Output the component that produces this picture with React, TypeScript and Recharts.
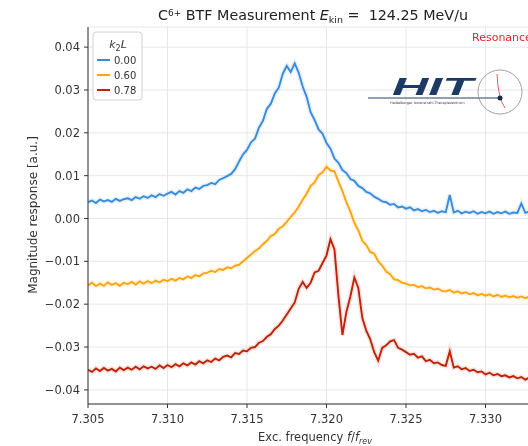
import { LineChart, Line, XAxis, YAxis, CartesianGrid } from "recharts"

// excitation frequency sweep f/f_rev
const FREQ = [
  7.305, 7.30525, 7.3055, 7.30575, 7.306, 7.30625, 7.3065, 7.30675, 7.307, 7.30725,
  7.3075, 7.30775, 7.308, 7.30825, 7.3085, 7.30875, 7.309, 7.30925, 7.3095, 7.30975,
  7.31, 7.31025, 7.3105, 7.31075, 7.311, 7.31125, 7.3115, 7.31175, 7.312, 7.31225,
  7.3125, 7.31275, 7.313, 7.31325, 7.3135, 7.31375, 7.314, 7.31425, 7.3145, 7.31475,
  7.315, 7.31525, 7.3155, 7.31575, 7.316, 7.31625, 7.3165, 7.31675, 7.317, 7.31725,
  7.3175, 7.31775, 7.318, 7.31825, 7.3185, 7.31875, 7.319, 7.31925, 7.3195, 7.31975,
  7.32, 7.32025, 7.3205, 7.32075, 7.321, 7.32125, 7.3215, 7.32175, 7.322, 7.32225,
  7.3225, 7.32275, 7.323, 7.32325, 7.3235, 7.32375, 7.324, 7.32425, 7.3245, 7.32475,
  7.325, 7.32525, 7.3255, 7.32575, 7.326, 7.32625, 7.3265, 7.32675, 7.327, 7.32725,
  7.3275, 7.32775, 7.328, 7.32825, 7.3285, 7.32875, 7.329, 7.32925, 7.3295, 7.32975,
  7.33, 7.33025, 7.3305, 7.33075, 7.331, 7.33125, 7.3315, 7.33175, 7.332, 7.33225,
  7.3325, 7.33275, 7.333, 7.33325,
]

// k2L = 0.00
const RESP_000 = [
  0.0038, 0.0042, 0.0036, 0.0044, 0.004, 0.0043, 0.0039, 0.0046, 0.0041, 0.0045,
  0.0047, 0.0043, 0.005, 0.0046, 0.0052, 0.0048, 0.0054, 0.005, 0.0057, 0.0053,
  0.0058, 0.0062, 0.0056, 0.0064, 0.006, 0.0068, 0.0064, 0.0072, 0.0069, 0.0076,
  0.0078, 0.0083, 0.008, 0.009, 0.0094, 0.0099, 0.0104, 0.0115, 0.0133, 0.015,
  0.016, 0.0178, 0.0186, 0.0212, 0.0228, 0.0256, 0.0268, 0.0292, 0.0306, 0.0338,
  0.0356, 0.0342, 0.0362, 0.034, 0.0308, 0.0284, 0.0248, 0.023, 0.0208, 0.0198,
  0.0176, 0.0163, 0.014, 0.013, 0.0113, 0.0106, 0.0092, 0.0088, 0.0076, 0.0071,
  0.0062, 0.0059, 0.0051, 0.0046, 0.004, 0.0038, 0.0032, 0.0034, 0.0026, 0.0028,
  0.0023, 0.0026, 0.0019, 0.0022, 0.0017, 0.002, 0.0015, 0.0018, 0.0013, 0.0017,
  0.0015, 0.0055, 0.0014, 0.0018, 0.0012, 0.0016, 0.0013, 0.0017, 0.0011, 0.0015,
  0.0012, 0.0016, 0.0011, 0.0015, 0.0012, 0.0016, 0.0011, 0.0014, 0.0013, 0.0035,
  0.0013, 0.0016, 0.0012, 0.0015,
]

// k2L = 0.60
const RESP_060 = [
  -0.0156, -0.015, -0.0158, -0.0152, -0.0157, -0.0149, -0.0155, -0.0151, -0.0157, -0.015,
  -0.0153, -0.0148, -0.0154, -0.0147, -0.0152, -0.0146, -0.0151, -0.0145, -0.0149, -0.0143,
  -0.0146, -0.0141, -0.0145, -0.0139, -0.0142, -0.0135, -0.0139, -0.0132, -0.0135, -0.0128,
  -0.0127, -0.0122, -0.0125, -0.0118, -0.012, -0.0114, -0.0116, -0.011, -0.0108, -0.01,
  -0.0092, -0.0084, -0.0076, -0.007, -0.006, -0.0052, -0.0041, -0.0036, -0.0024, -0.0018,
  -0.0008, 0.0004, 0.0014, 0.0028, 0.0044, 0.0058, 0.0076, 0.0084, 0.0101, 0.0108,
  0.0121, 0.0112, 0.011, 0.0086, 0.0064, 0.0038, 0.0016, -0.001, -0.0028, -0.0052,
  -0.0062, -0.0078, -0.0082, -0.01, -0.011, -0.0124, -0.013, -0.0142, -0.0144, -0.015,
  -0.0152, -0.0156, -0.0155, -0.016, -0.0158, -0.0163, -0.0161, -0.0166, -0.0164, -0.0169,
  -0.017, -0.0167, -0.0173, -0.017, -0.0175, -0.0172, -0.0177, -0.0174, -0.0179, -0.0176,
  -0.018, -0.0177, -0.0182, -0.0178, -0.0183, -0.018, -0.0184, -0.0181, -0.0185, -0.0182,
  -0.0186, -0.0182, -0.0185, -0.0183,
]

// k2L = 0.78
const RESP_078 = [
  -0.0353, -0.0358, -0.035, -0.0356, -0.0349, -0.0355, -0.0351, -0.0357, -0.0348, -0.0354,
  -0.0348, -0.0353, -0.0346, -0.0352, -0.0345, -0.035, -0.0346, -0.0351, -0.0343, -0.0349,
  -0.0342, -0.0347, -0.034, -0.0345, -0.0338, -0.0343, -0.0336, -0.0341, -0.0333, -0.0338,
  -0.0331, -0.0335, -0.0327, -0.0331, -0.0323, -0.032, -0.0324, -0.0314, -0.0316, -0.0308,
  -0.031, -0.0302, -0.03, -0.029, -0.0286, -0.0276, -0.027, -0.0258, -0.025, -0.0238,
  -0.0224, -0.021, -0.0196, -0.0164, -0.0148, -0.0162, -0.015, -0.0126, -0.0122, -0.0104,
  -0.0086, -0.0048, -0.0072, -0.018, -0.0272, -0.0218, -0.0182, -0.0138, -0.0162, -0.0232,
  -0.0262, -0.0282, -0.0312, -0.0332, -0.0302, -0.0296, -0.0287, -0.0284, -0.0302, -0.0306,
  -0.0312, -0.0318, -0.0316, -0.0325, -0.0322, -0.0333, -0.033, -0.0338, -0.0336, -0.0342,
  -0.0344, -0.031, -0.0348, -0.0345, -0.0352, -0.0349, -0.0356, -0.0353, -0.0359, -0.0357,
  -0.0364, -0.036, -0.0366, -0.0363, -0.0368, -0.0366, -0.0371, -0.0368, -0.0373, -0.037,
  -0.0376, -0.0372, -0.0377, -0.0374,
]

const X_TICKS = [7.305, 7.31, 7.315, 7.32, 7.325, 7.33]
const Y_TICKS = [-0.04, -0.03, -0.02, -0.01, 0, 0.01, 0.02, 0.03, 0.04]

const SERIES = [
  { key: "k000", label: "0.00", color: "#3a8cdb" },
  { key: "k060", label: "0.60", color: "#ffa510" },
  { key: "k078", label: "0.78", color: "#bf2308" },
]

const FONT = "DejaVu Sans, sans-serif"
const INK = "#333"

const data = FREQ.map((f, i) => ({
  f,
  k000: RESP_000[i],
  k060: RESP_060[i],
  k078: RESP_078[i],
}))

const fmtY = (v: number) => v.toFixed(2).replace("-", "\u2212")

export default function App() {
  // fixed so the wide, cropped chart never makes the page scroll
  return (
    <div style={{ position: "fixed", left: 8, top: 8, width: 520, height: 438, overflow: "hidden", fontFamily: FONT }}>
      <LineChart width={560} height={430} data={data} margin={{ top: 19, right: 30, left: 0, bottom: 0 }}>
        <CartesianGrid stroke="#e4e4e4" strokeWidth={0.9} />
        <XAxis
          dataKey="f"
          type="number"
          domain={[7.305, 7.3333]}
          ticks={X_TICKS}
          allowDataOverflow
          height={34}
          tickSize={4}
          tickMargin={7}
          tickFormatter={(v: number) => v.toFixed(3)}
          tick={{ fontSize: 11.5, fill: INK, fontFamily: FONT }}
          stroke={INK}
        />
        <XAxis
          xAxisId="top"
          orientation="top"
          type="number"
          domain={[7.305, 7.3333]}
          height={0}
          tick={false}
          tickLine={false}
          stroke={INK}
        />
        <YAxis
          type="number"
          domain={[-0.0433, 0.0447]}
          ticks={Y_TICKS}
          allowDataOverflow
          width={80}
          tickSize={4}
          tickMargin={4}
          tickFormatter={fmtY}
          tick={{ fontSize: 11.5, fill: INK, fontFamily: FONT }}
          stroke={INK}
        />
        {SERIES.map((s) => (
          <Line
            key={s.key + "-band"}
            dataKey={s.key}
            stroke={s.color}
            strokeOpacity={0.12}
            strokeWidth={5}
            dot={false}
            isAnimationActive={false}
          />
        ))}
        {SERIES.map((s) => (
          <Line
            key={s.key}
            dataKey={s.key}
            stroke={s.color}
            strokeWidth={1.9}
            dot={false}
            isAnimationActive={false}
          />
        ))}
      </LineChart>

      <svg
        width={520}
        height={438}
        style={{ position: "absolute", left: 0, top: 0, pointerEvents: "none" }}
        fontFamily={FONT}
      >
        <text x={305} y={12} textAnchor="middle" fontSize={14.3} fill="#222">
          C<tspan dy={-4.5} fontSize={9}>6+</tspan>
          <tspan dy={4.5}> BTF Measurement </tspan>
          <tspan fontStyle="italic">E</tspan>
          <tspan dy={3} fontSize={9.5}>kin</tspan>
          <tspan dy={-3}>{" =\u00a0 124.25 MeV/u"}</tspan>
        </text>

        <text x={464} y={33} fontSize={11} fill="#e8262c">Resonance</text>

        <text x={29} y={207} textAnchor="middle" fontSize={12} fill={INK} transform="rotate(-90, 29, 207)">
          Magnitude response [a.u.]
        </text>
        <text x={307} y={433} textAnchor="middle" fontSize={11.5} fill={INK}>
          Exc. frequency <tspan fontStyle="italic">f</tspan>/<tspan fontStyle="italic">f</tspan>
          <tspan dy={3} fontSize={8} fontStyle="italic">rev</tspan>
        </text>

        {/* legend */}
        <rect x={85} y={24} width={49} height={68} rx={3} fill="#fff" fillOpacity={0.85} stroke="#d0d0d0" />
        <text x={110} y={40} textAnchor="middle" fontSize={11} fill={INK}>
          <tspan fontStyle="italic">k</tspan>
          <tspan dy={3} fontSize={8}>2</tspan>
          <tspan dy={-3} fontStyle="italic">L</tspan>
        </text>
        {SERIES.map((s, i) => (
          <g key={s.key}>
            <line x1={89} x2={102} y1={52 + i * 15} y2={52 + i * 15} stroke={s.color} strokeWidth={2} />
            <text x={106} y={56 + i * 15} fontSize={10} fill={INK}>{s.label}</text>
          </g>
        ))}

        {/* HIT logo */}
        <text
          x={384}
          y={87}
          fontSize={23}
          fontWeight="bold"
          fontStyle="italic"
          textLength={81}
          lengthAdjust="spacingAndGlyphs"
          fill="#1d3a66"
          fontFamily="Liberation Sans, sans-serif"
        >
          HIT
        </text>
        <line x1={360} x2={492} y1={90} y2={90} stroke="#2a3f66" strokeWidth={1} />
        <text x={382} y={96} fontSize={3.5} fill="#444">Heidelberger Ionenstrahl-Therapiezentrum</text>
        <circle cx={492} cy={84} r={22} fill="none" stroke="#8a8a8a" strokeWidth={0.8} />
        <path d="M489 66 Q490 90 497 100" fill="none" stroke="#c83a3a" strokeWidth={0.8} />
        <circle cx={492} cy={90} r={2.5} fill="#1a2a50" />
      </svg>
    </div>
  )
}
